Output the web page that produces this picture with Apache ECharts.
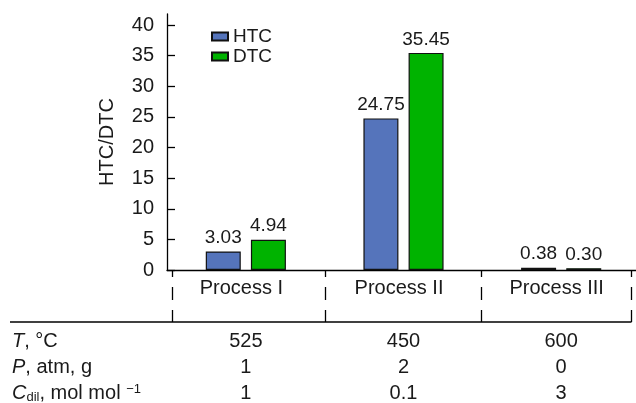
<!DOCTYPE html>
<html>
<head>
<meta charset="utf-8">
<script src="https://cdn.jsdelivr.net/npm/echarts@6/dist/echarts.min.js"></script>
<style>
  html, body { margin: 0; padding: 0; background: #fff; }
  #chart { width: 636px; height: 403px; }
</style>
</head>
<body>
<div id="chart"></div>
<script>
// Process categories and the two ratios plotted for each
const categories = ['Process I', 'Process II', 'Process III'];
const htcValues = [3.03, 24.75, 0.38];
const dtcValues = [4.94, 35.45, 0.30];
const yTickValues = [0, 5, 10, 15, 20, 25, 30, 35, 40];

// Operating-condition table under the axis, one array per row
const rowTemperature = ['525', '450', '600'];
const rowPressure = ['1', '2', '0'];
const rowDilution = ['1', '0.1', '3'];

// Column separators, in category units (0 = centre of first category)
const dividerAt = [-0.47, 0.5, 1.49, 2.44];

const FONT = '"Liberation Sans", Arial, Helvetica, sans-serif';
const INK = '#1a1a1a';
const FS = 20;

const chart = echarts.init(document.getElementById('chart'), null, { renderer: 'canvas' });

function tableAxis(values, margin) {
  return {
    type: 'category',
    gridIndex: 0,
    position: 'bottom',
    data: values,
    axisLine: { show: false },
    axisTick: { show: false },
    splitLine: { show: false },
    axisLabel: {
      interval: 0, margin: margin,
      fontFamily: FONT, fontSize: FS, color: INK
    }
  };
}

const option = {
  animation: false,
  backgroundColor: '#fff',
  textStyle: { fontFamily: FONT },
  grid: {
    left: 167, right: -4, top: 14, bottom: 133,
    containLabel: false, outerBoundsMode: 'none'
  },
  legend: {
    data: ['HTC', 'DTC'],
    orient: 'vertical',
    left: 211, top: 27,
    padding: 0,
    itemWidth: 16, itemHeight: 8, itemGap: 1,
    icon: 'rect',
    textStyle: { fontFamily: FONT, fontSize: 19, color: INK }
  },
  xAxis: [
    {
      type: 'category',
      data: categories,
      axisLine: { show: true, lineStyle: { color: '#000', width: 1.3 } },
      axisTick: { show: false },
      splitLine: { show: false },
      axisLabel: { interval: 0, margin: 8, padding: [0, 9, 0, 0], fontFamily: FONT, fontSize: FS, color: INK }
    },
    tableAxis(rowTemperature, 61),
    tableAxis(rowPressure, 87),
    tableAxis(rowDilution, 113)
  ],
  yAxis: {
    type: 'value',
    min: 0, max: 41.8,
    name: 'HTC/DTC',
    nameLocation: 'middle',
    nameGap: 50,
    nameRotate: 90,
    nameTextStyle: { fontFamily: FONT, fontSize: FS, color: INK },
    axisLine: { show: true, lineStyle: { color: '#000', width: 1.3 } },
    axisTick: { show: true, inside: true, length: 8, lineStyle: { color: '#000', width: 1.3 }, customValues: yTickValues },
    axisLabel: { margin: 13, fontFamily: FONT, fontSize: FS, color: INK, customValues: yTickValues },
    splitLine: { show: false }
  },
  series: [
    {
      name: 'HTC', type: 'bar', data: htcValues,
      barWidth: 35, barGap: '29%',
      itemStyle: { color: '#5574bb', borderColor: '#111', borderWidth: 1.2 },
      label: { show: true, position: 'top', distance: 4, fontFamily: FONT, fontSize: 19, color: INK,
               formatter: p => p.value.toFixed(2) }
    },
    {
      name: 'DTC', type: 'bar', data: dtcValues,
      barWidth: 35, barGap: '29%',
      itemStyle: { color: '#00b300', borderColor: '#111', borderWidth: 1.2 },
      label: { show: true, position: 'top', distance: 4, fontFamily: FONT, fontSize: 19, color: INK,
               formatter: p => p.value.toFixed(2) }
    }
  ]
};

chart.setOption(option);

// Separators and row headers, positioned from the axes' own scales
const c0 = chart.convertToPixel({ xAxisIndex: 0 }, categories[0]);
const c1 = chart.convertToPixel({ xAxisIndex: 0 }, categories[1]);
const band = c1 - c0;
const baseY = chart.convertToPixel({ yAxisIndex: 0 }, 0);
const ruleY = baseY + 52;

const lineStyle = { stroke: '#000', lineWidth: 1.3 };
const elements = [];
const xs = dividerAt.map(v => Math.round(c0 + v * band) + 0.5);
xs.forEach(x => {
  [[0, 7], [17, 30], [40, 52]].forEach(seg => {
    elements.push({
      type: 'line', silent: true,
      shape: { x1: x, y1: baseY + seg[0], x2: x, y2: baseY + seg[1] },
      style: lineStyle
    });
  });
});
elements.push({
  type: 'line', silent: true,
  shape: { x1: 10, y1: ruleY, x2: xs[xs.length - 1], y2: ruleY },
  style: lineStyle
});

const rich = {
  i: { fontStyle: 'italic', fontSize: FS, fontFamily: FONT, color: INK },
  sub: { fontSize: 13, fontFamily: FONT, color: INK, verticalAlign: 'bottom', padding: [8, 0, 0, 0] },
  sup: { fontSize: 13, fontFamily: FONT, color: INK, verticalAlign: 'top', padding: [0, 0, 8, 0] }
};
const headers = [
  { text: '{i|T}, °C', y: baseY + 71 },
  { text: '{i|P}, atm, g', y: baseY + 97 },
  { text: '{i|C}{sub|dil}, mol mol {sup|−1}', y: baseY + 123 }
];
headers.forEach(h => {
  elements.push({
    type: 'text', silent: true,
    x: 12, y: h.y,
    style: {
      text: h.text, rich: rich,
      fontFamily: FONT, fontSize: FS, fill: INK,
      verticalAlign: 'middle', align: 'left'
    }
  });
});

chart.setOption({ graphic: { elements: elements } });
</script>
</body>
</html>
